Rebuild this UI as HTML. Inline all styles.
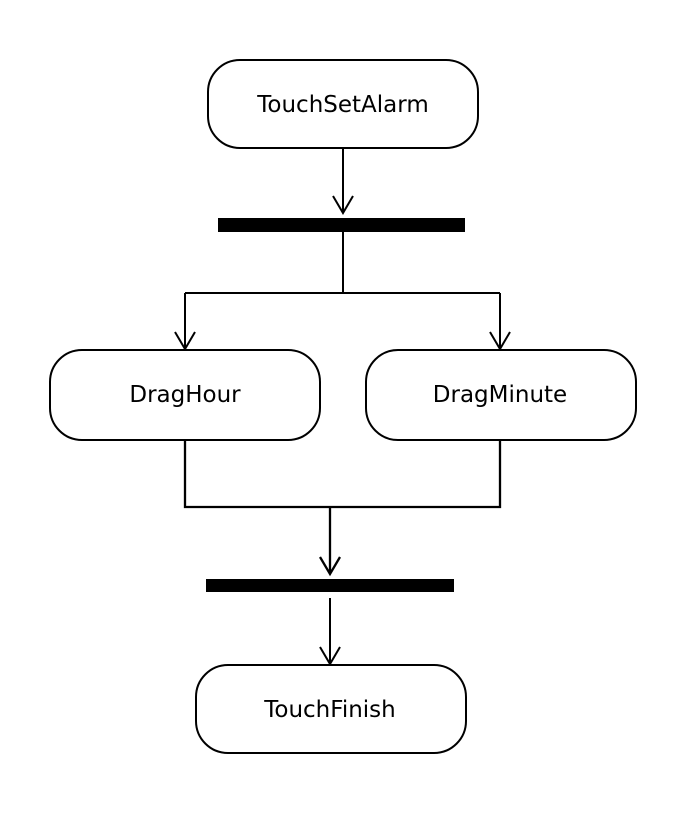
<!DOCTYPE html>
<html><head><style>body{margin:0;background:#fff}</style></head><body>
<svg width="680" height="813" xmlns="http://www.w3.org/2000/svg" font-family="DejaVu Sans, Liberation Sans, sans-serif" font-size="23">
<rect width="680" height="813" fill="#fff"/>
<g fill="none" stroke="#000" stroke-width="2">
<rect x="208" y="60" width="270" height="88" rx="32"/>
<rect x="50" y="350" width="270" height="90" rx="32"/>
<rect x="366" y="350" width="270" height="90" rx="32"/>
<rect x="196" y="665" width="270" height="88" rx="32"/>
<path d="M343 148V213M333 196L343 213L353 196"/>
<path d="M343 232V293M185 293H500M185 293V349M500 293V349M175 332L185 349L195 332M490 332L500 349L510 332"/>
<path d="M185 440V507H500V440M330 507V573M320 557L330 574L340 557" stroke-width="2.3"/>
<path d="M330 598V664M320 647L330 664L340 647"/>
</g>
<rect x="218" y="218" width="247" height="14" fill="#000"/>
<rect x="206" y="579" width="248" height="13" fill="#000"/>
<g text-anchor="middle" fill="#000">
<text x="343" y="112">TouchSetAlarm</text>
<text x="185" y="402">DragHour</text>
<text x="500" y="402">DragMinute</text>
<text x="330" y="717">TouchFinish</text>
</g>
</svg>
</body></html>
